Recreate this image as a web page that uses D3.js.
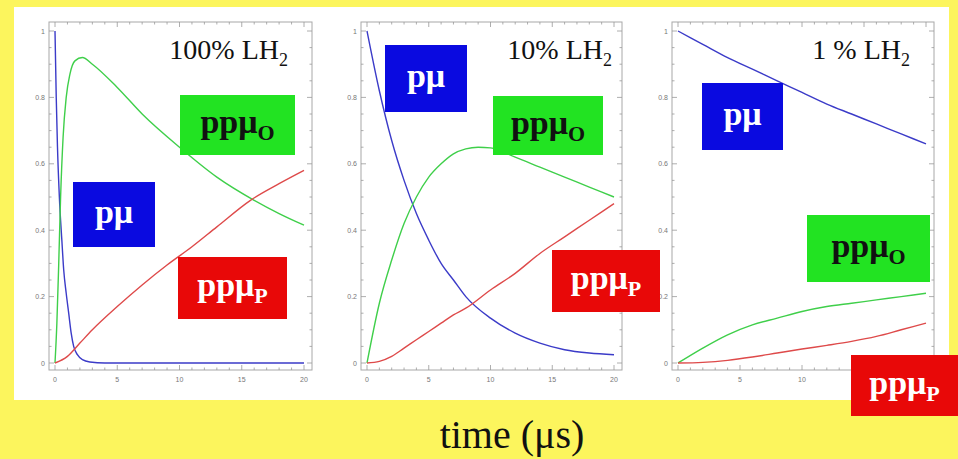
<!DOCTYPE html>
<html>
<head>
<meta charset="utf-8">
<script src="https://cdn.jsdelivr.net/npm/d3@7"></script>
<style>
  body { margin: 0; background: #fcf55d; }
  svg { display: block; }
</style>
</head>
<body>
<svg width="958" height="459"></svg>
<script>
// values (time in us, population fraction)
var xTicks = [0, 5, 10, 15, 20];
var yTicks = [0, 0.2, 0.4, 0.6, 0.8, 1];
var yTickLabels = ["0", "0.2", "0.4", "0.6", "0.8", "1"];
var panelTitles = ["100% LH", "10% LH", "1 % LH"];

// 100% LH2
var tBlue1 = [0, 0.1, 0.2, 0.35, 0.55, 0.7, 0.9, 1.1, 1.3, 1.5, 1.8, 2.2, 2.8, 4, 20];
var blue1 = [1, 0.8, 0.65, 0.5, 0.37, 0.28, 0.21, 0.15, 0.09, 0.05, 0.025, 0.01, 0.003, 0, 0];
var tGreen1 = [0, 0.15, 0.3, 0.45, 0.65, 0.9, 1.2, 1.6, 2.2, 3, 5, 7, 10, 13, 16, 18, 20];
var green1 = [0, 0.12, 0.3, 0.5, 0.68, 0.8, 0.87, 0.91, 0.92, 0.9, 0.83, 0.75, 0.65, 0.56, 0.49, 0.45, 0.415];
var tRed1 = [0, 1, 2, 3, 5, 7, 9, 11, 13, 15.7, 18, 20];
var red1 = [0, 0.02, 0.06, 0.1, 0.17, 0.235, 0.295, 0.35, 0.41, 0.49, 0.54, 0.58];

// 10% LH2
var tBlue2 = [0, 1, 2, 3, 4, 5, 6, 7, 8, 10, 12, 14, 16, 18, 20];
var blue2 = [1, 0.82, 0.67, 0.55, 0.45, 0.37, 0.3, 0.25, 0.2, 0.135, 0.09, 0.06, 0.04, 0.03, 0.025];
var tGreen2 = [0, 1, 2, 3, 4, 5, 6, 7, 8, 9, 10, 12, 14, 16, 18, 20];
var green2 = [0, 0.18, 0.31, 0.42, 0.5, 0.56, 0.6, 0.63, 0.645, 0.65, 0.648, 0.62, 0.59, 0.56, 0.53, 0.5];
var tRed2 = [0, 1, 2, 3, 4, 5, 6, 7, 8, 10, 12, 14, 16, 18, 20];
var red2 = [0, 0.005, 0.02, 0.045, 0.07, 0.095, 0.12, 0.145, 0.165, 0.22, 0.27, 0.33, 0.38, 0.43, 0.48];

// 1% LH2
var tBlue3 = [0, 2, 4, 6, 8, 10, 12, 14, 16, 18, 20];
var blue3 = [1, 0.96, 0.92, 0.885, 0.85, 0.815, 0.78, 0.75, 0.72, 0.69, 0.66];
var tGreen3 = [0, 2, 4, 6, 8, 10, 12, 14, 16, 18, 20];
var green3 = [0, 0.045, 0.085, 0.115, 0.135, 0.155, 0.17, 0.18, 0.19, 0.2, 0.21];
var tRed3 = [0, 2, 4, 6, 8, 10, 12, 14, 16, 18, 20];
var red3 = [0, 0.002, 0.008, 0.018, 0.03, 0.042, 0.053, 0.065, 0.08, 0.1, 0.12];

var panelSeries = [
  [[tBlue1, blue1, "#3b3bc8"], [tGreen1, green1, "#3fcf4a"], [tRed1, red1, "#de4a4a"]],
  [[tBlue2, blue2, "#3b3bc8"], [tGreen2, green2, "#3fcf4a"], [tRed2, red2, "#de4a4a"]],
  [[tBlue3, blue3, "#3b3bc8"], [tGreen3, green3, "#3fcf4a"], [tRed3, red3, "#de4a4a"]]
];

// layout
var svg = d3.select("svg");
var frames = [{x: 49, w: 263}, {x: 361, w: 261}, {x: 672, w: 262}];
var frameTop = 22, frameBottom = 370;
var titleEnd = [288, 612, 910];

// label boxes (pixel positions)
var boxes = [
  [{k: "o", x: 180, y: 95, w: 115, h: 60}, {k: "b", x: 73, y: 182, w: 82, h: 65}, {k: "p", x: 178, y: 257, w: 109, h: 62}],
  [{k: "b", x: 385, y: 45, w: 82, h: 67}, {k: "o", x: 493, y: 96, w: 110, h: 59}, {k: "p", x: 552, y: 250, w: 108, h: 62}],
  [{k: "b", x: 702, y: 83, w: 81, h: 67}, {k: "o", x: 807, y: 215, w: 123, h: 67}, {k: "p", x: 851, y: 355, w: 107, h: 61}]
];

// x tick labels hidden under the ppμP box in the last panel
function covered(px, py) {
  return boxes.some(function (list) {
    return list.some(function (b) {
      return px > b.x - 6 && px < b.x + b.w + 6 && py > b.y - 4 && py < b.y + b.h + 4;
    });
  });
}

svg.append("rect").attr("x", 14).attr("y", 7).attr("width", 935).attr("height", 393)
  .attr("fill", "#ffffff");

frames.forEach(function (f, i) {
  var x = d3.scaleLinear().domain([0, 20]).range([f.x + 6, f.x + f.w - 8]);
  var y = d3.scaleLinear().domain([0, 1]).range([frameBottom - 7, frameTop + 9]);
  var g = svg.append("g");

  g.append("rect").attr("x", f.x).attr("y", frameTop)
    .attr("width", f.w).attr("height", frameBottom - frameTop)
    .attr("fill", "none").attr("stroke", "#a8a8a8").attr("stroke-width", 1);

  // frame ticks, inward on all four sides (mathematica style)
  var minorX = d3.range(0, 20.01, 1), minorY = d3.range(0, 1.001, 0.05);
  minorX.forEach(function (v) {
    var big = v % 5 === 0, len = big ? 5 : 2.5;
    g.append("line").attr("x1", x(v)).attr("x2", x(v)).attr("y1", frameBottom).attr("y2", frameBottom - len)
      .attr("stroke", "#999").attr("stroke-width", 0.8);
    g.append("line").attr("x1", x(v)).attr("x2", x(v)).attr("y1", frameTop).attr("y2", frameTop + len)
      .attr("stroke", "#999").attr("stroke-width", 0.8);
  });
  minorY.forEach(function (v) {
    var big = Math.abs(v * 5 - Math.round(v * 5)) < 1e-6, len = big ? 5 : 2.5;
    g.append("line").attr("x1", f.x).attr("x2", f.x + len).attr("y1", y(v)).attr("y2", y(v))
      .attr("stroke", "#999").attr("stroke-width", 0.8);
    g.append("line").attr("x1", f.x + f.w).attr("x2", f.x + f.w - len).attr("y1", y(v)).attr("y2", y(v))
      .attr("stroke", "#999").attr("stroke-width", 0.8);
  });

  g.selectAll(".xl").data(xTicks.filter(function (d) { return !covered(x(d), frameBottom + 9); }))
    .enter().append("text")
    .attr("x", function (d) { return x(d); }).attr("y", frameBottom + 12)
    .attr("text-anchor", "middle").attr("font-family", "Liberation Sans").attr("font-size", 7)
    .attr("fill", "#777").text(function (d) { return d; });
  g.selectAll(".yl").data(yTicks).enter().append("text")
    .attr("x", f.x - 4).attr("y", function (d) { return y(d) + 2.5; })
    .attr("text-anchor", "end").attr("font-family", "Liberation Sans").attr("font-size", 7)
    .attr("fill", "#777").text(function (d, j) { return yTickLabels[j]; });

  var line = d3.line().curve(d3.curveMonotoneX)
    .x(function (d) { return x(d[0]); }).y(function (d) { return y(d[1]); });
  panelSeries[i].forEach(function (s) {
    g.append("path").datum(d3.zip(s[0], s[1])).attr("d", line)
      .attr("fill", "none").attr("stroke", s[2]).attr("stroke-width", 1.4);
  });

  var title = g.append("text").attr("x", titleEnd[i]).attr("y", 59).attr("text-anchor", "end")
    .attr("font-family", "Liberation Serif").attr("font-size", 28).attr("fill", "#111");
  title.append("tspan").text(panelTitles[i]);
  title.append("tspan").attr("dy", 7).attr("font-size", 18).text("2");
});

// label boxes
var boxStyle = {
  b: {fill: "#0a0ae0", color: "#ffffff", main: "p\u03bc", sub: ""},
  o: {fill: "#22e322", color: "#111111", main: "pp\u03bc", sub: "O"},
  p: {fill: "#e80808", color: "#ffffff", main: "pp\u03bc", sub: "P"}
};
boxes.forEach(function (list) {
  list.forEach(function (b) {
    var st = boxStyle[b.k];
    svg.append("rect").attr("x", b.x).attr("y", b.y).attr("width", b.w).attr("height", b.h)
      .attr("fill", st.fill);
    var t = svg.append("text").attr("x", b.x + b.w / 2).attr("y", b.y + b.h / 2 + 8)
      .attr("text-anchor", "middle").attr("font-family", "Liberation Serif")
      .attr("font-weight", "bold").attr("font-size", 34).attr("fill", st.color);
    t.append("tspan").text(st.main);
    if (st.sub) t.append("tspan").attr("dy", 7).attr("font-size", 22).text(st.sub);
  });
});

svg.append("text").attr("x", 512).attr("y", 448).attr("text-anchor", "middle")
  .attr("font-family", "Liberation Serif").attr("font-size", 40).attr("fill", "#111")
  .text("time (\u03bcs)");
</script>
</body>
</html>
